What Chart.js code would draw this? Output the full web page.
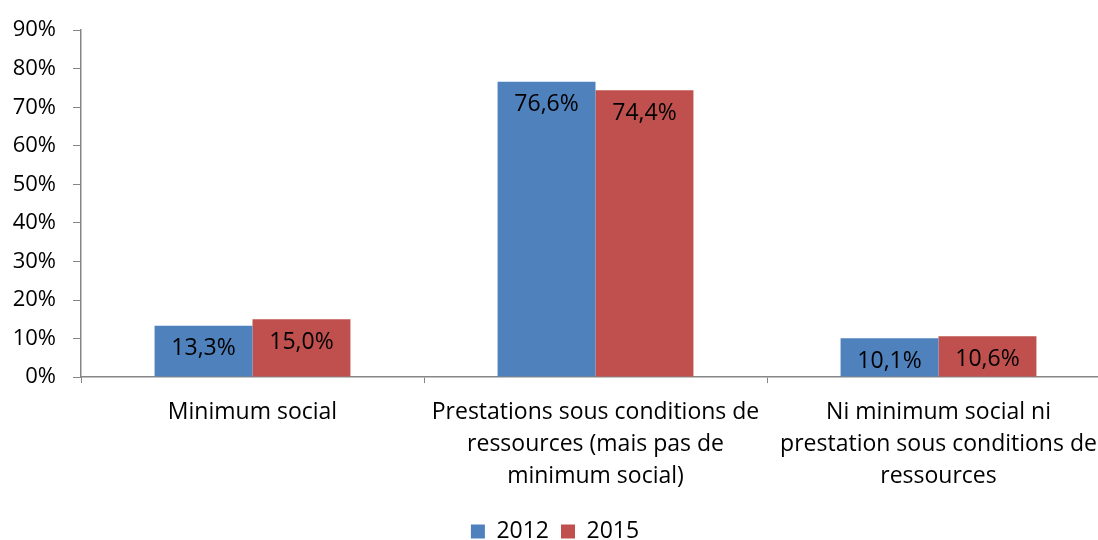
<!DOCTYPE html>
<html>
<head>
<meta charset="utf-8">
<script src="https://cdn.jsdelivr.net/npm/chart.js@4/dist/chart.umd.min.js"></script>
<style>
    html, body { margin: 0; padding: 0; background: #fff; overflow: hidden; }
    #wrap { width: 1130px; height: 553px; }
</style>
</head>
<body>
<div id="wrap"><canvas id="barChart" width="1130" height="553"></canvas></div>
<script>
const categories = [
    ["Minimum social"],
    ["Prestations sous conditions de", "ressources (mais pas de", "minimum social)"],
    ["Ni minimum social ni", "prestation sous conditions de", "ressources"]
];
const years = ["2012", "2015"];
const values2012 = [13.3, 76.6, 10.1];
const values2015 = [15.0, 74.4, 10.6];
const yTicks = [0, 10, 20, 30, 40, 50, 60, 70, 80, 90];

const FONT = "'Open Sans'";
const axisColor = "#868686";

// labels drawn inside the top of each bar, french decimal comma
const barLabels = {
    id: "barLabels",
    afterDatasetsDraw(chart) {
        const ctx = chart.ctx;
        ctx.save();
        ctx.font = "23px " + FONT;
        ctx.fillStyle = "#000";
        ctx.textAlign = "center";
        ctx.textBaseline = "middle";
        chart.data.datasets.forEach((ds, i) => {
            chart.getDatasetMeta(i).data.forEach((bar, j) => {
                const txt = ds.data[j].toFixed(1).replace(".", ",") + "%";
                ctx.fillText(txt, bar.x, bar.y + 23);
            });
        });
        ctx.restore();
    }
};

new Chart(document.getElementById("barChart"), {
    type: "bar",
    data: {
        labels: categories,
        datasets: [
            { label: years[0], data: values2012, backgroundColor: "#4F81BD" },
            { label: years[1], data: values2015, backgroundColor: "#C0504D" }
        ]
    },
    options: {
        responsive: false,
        animation: false,
        categoryPercentage: 0.571,
        barPercentage: 1,
        layout: { padding: { top: 18, right: 20, left: 0, bottom: 0 } },
        plugins: {
            legend: {
                position: "bottom",
                labels: {
                    boxWidth: 14,
                    boxHeight: 14,
                    padding: 12,
                    color: "#000",
                    font: { family: FONT, size: 23 }
                }
            },
            tooltip: { enabled: false }
        },
        scales: {
            x: {
                afterFit(scale) { scale.height += 3; },
                grid: {
                    offset: true,
                    drawOnChartArea: false,
                    drawTicks: true,
                    tickLength: 6,
                    color: axisColor
                },
                border: { color: axisColor, width: 1.5 },
                ticks: {
                    color: "#000",
                    font: { family: FONT, size: 23, lineHeight: 1.39 },
                    maxRotation: 0,
                    autoSkip: false,
                    padding: 13
                }
            },
            y: {
                min: 0,
                max: 90,
                afterBuildTicks(scale) {
                    scale.ticks = yTicks.map(v => ({ value: v }));
                },
                afterFit(scale) { scale.width = 81; },
                grid: {
                    drawOnChartArea: false,
                    drawTicks: true,
                    tickLength: 8,
                    color: axisColor
                },
                border: { color: axisColor, width: 1.5 },
                ticks: {
                    color: "#000",
                    font: { family: FONT, size: 22 },
                    padding: 17,
                    callback: v => v + "%"
                }
            }
        }
    },
    plugins: [barLabels]
});
</script>
</body>
</html>
